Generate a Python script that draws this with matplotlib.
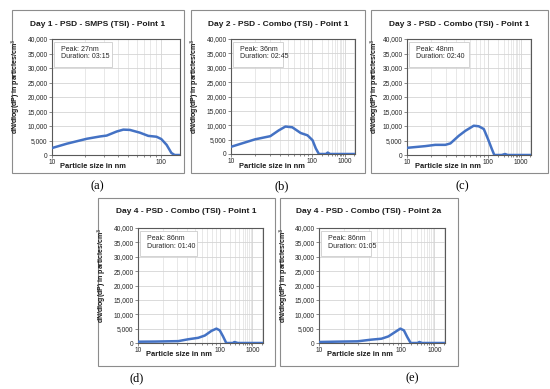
import matplotlib
matplotlib.use("Agg")
import matplotlib.pyplot as plt
import numpy as np
from matplotlib.patches import Rectangle
from matplotlib.ticker import FixedLocator, FuncFormatter

plt.rcParams['font.family'] = ['Liberation Sans', 'DejaVu Sans']

# ---- data (particle size in nm, dN/dlog(dP)) ----
a_size = [10, 13.7, 20.9, 27.7, 31.8, 39.3, 45.2, 52, 64.2, 76.6, 91.2, 101, 113, 125, 134, 149]
a_conc = [2400, 3900, 5600, 6400, 6700, 8100, 8750, 8650, 7700, 6600, 6300, 5500, 3500, 700, 0, 0]

b_size = [10, 19.8, 30.5, 38.7, 46.9, 56.9, 72.3, 87.7, 103, 130, 162, 268, 303, 356, 2100]
b_conc = [2500, 5100, 6200, 8200, 9550, 9300, 7300, 6500, 4800, 1950, 0, 0, 500, 0, 0]

c_size = [10, 16.8, 22.3, 29.7, 34.3, 43.4, 52.5, 66.5, 76.7, 88.5, 100, 130, 155, 265, 333, 400, 2100]
c_conc = [2470, 3060, 3500, 3500, 4000, 6600, 8350, 10100, 9900, 8950, 5400, 2100, 0, 0, 350, 0, 0]

d_size = [10, 16.3, 31.1, 41.2, 54.5, 65.7, 79, 91, 100, 126, 158, 251, 282, 355, 2100]
d_conc = [450, 500, 650, 1300, 1800, 2600, 4200, 5000, 4400, 2300, 0, 0, 350, 0, 0]

e_size = [10, 16.5, 29.3, 43, 57.4, 69.6, 84.1, 97, 119, 150, 191, 310, 350, 425, 2100]
e_conc = [350, 470, 580, 1160, 1500, 2300, 3840, 5000, 4400, 2100, 0, 0, 350, 0, 0]

titles = ["Day 1 - PSD - SMPS (TSI) - Point 1",
          "Day 2 - PSD - Combo (TSI) - Point 1",
          "Day 3 - PSD - Combo (TSI) - Point 1",
          "Day 4 - PSD - Combo (TSI) - Point 1",
          "Day 4 - PSD - Combo (TSI) - Point 2a"]
notes = ["Peak: 27nm\nDuration: 03:15",
         "Peak: 36nm\nDuration: 02:45",
         "Peak: 48nm\nDuration: 02:40",
         "Peak: 86nm\nDuration: 01:40",
         "Peak: 86nm\nDuration: 01:05"]
letters = ["(a)", "(b)", "(c)", "(d)", "(e)"]
y_ticks = [0, 5000, 10000, 15000, 20000, 25000, 30000, 35000, 40000]

W, H = 550, 389
BLUE = '#4472C4'
K = 0.4  # compression of the decade above 100 nm on the combo charts


def fwd(x):
    x = np.clip(np.asarray(x, dtype=float), 1e-3, None)
    lx = np.log10(x)
    return np.where(lx <= 2, lx, 2 + (lx - 2) * K)


def inv(y):
    y = np.asarray(y, dtype=float)
    with np.errstate(over='ignore'):
        return np.where(y <= 2, 10 ** y, 10 ** (2 + (y - 2) / K))


def px_rect(l, t, r, b):
    return [l / W, 1 - b / H, (r - l) / W, (b - t) / H]


fig = plt.figure(figsize=(W / 100, H / 100), dpi=100)

# (frame l, t, r, b), (plot l, t, r, b), box width, letter position
panels = [
    ((12, 10, 184, 173), (52, 39, 180, 155), 58, (97, 186)),
    ((191, 10, 365, 173), (231, 39, 355, 154), 50, (282, 186)),
    ((371, 10, 548, 173), (407, 39, 531, 155), 60, (462, 186)),
    ((98, 198, 275, 366), (138, 228, 263, 343), 57, (137, 378)),
    ((280, 198, 458, 366), (319, 228, 445, 343), 50, (412, 378)),
]
sizes = [a_size, b_size, c_size, d_size, e_size]
concs = [a_conc, b_conc, c_conc, d_conc, e_conc]

for i, (frame, plot, box_w, letter) in enumerate(panels):
    fl, ft, fr, fb = frame
    fig.add_artist(Rectangle((fl / W, 1 - fb / H), (fr - fl) / W, (fb - ft) / H,
                             transform=fig.transFigure, facecolor='white',
                             edgecolor='#8c8c8c', lw=0.8, zorder=-5))

    ax = fig.add_axes(px_rect(*plot))
    ax.plot(sizes[i], concs[i], color=BLUE, lw=1.8, solid_capstyle='round',
            solid_joinstyle='round', zorder=3)

    if i == 0:
        ax.set_xscale('log')
        ax.set_xlim(10, 150)
        major = [10, 100]
        minor = [20, 30, 40, 50, 60, 70, 80, 90]
    else:
        ax.set_xscale('function', functions=(fwd, inv))
        ax.set_xlim(10, 2100)
        major = [10, 100, 1000]
        minor = [20, 30, 40, 50, 60, 70, 80, 90,
                 200, 300, 400, 500, 600, 700, 800, 900, 2000]

    ax.xaxis.set_major_locator(FixedLocator(major))
    ax.xaxis.set_minor_locator(FixedLocator(minor))
    ax.xaxis.set_major_formatter(FuncFormatter(lambda v, p: f"{v:g}"))
    ax.xaxis.set_minor_formatter(FuncFormatter(lambda v, p: ""))
    ax.set_ylim(0, 40000)
    ax.set_yticks(y_ticks)
    ax.yaxis.set_major_formatter(FuncFormatter(lambda v, p: f"{int(v):,}"))

    ax.grid(which='major', color='#d4d4d4', lw=0.6)
    ax.grid(which='minor', axis='x', color='#dedede', lw=0.5)
    ax.set_axisbelow(True)
    for s in ax.spines.values():
        s.set_color('#595959')
        s.set_linewidth(0.8)
    ax.tick_params(which='both', labelsize=4.8, colors='#595959', labelcolor='#262626',
                   length=2, width=0.5, pad=1.2)
    ax.tick_params(which='minor', length=1.5)

    pl, pt, pr, pb = plot
    # note box
    fig.add_artist(Rectangle(((pl + 2) / W, 1 - (pt + 28) / H), box_w / W, 25 / H,
                             transform=fig.transFigure, facecolor='white',
                             edgecolor='#cccccc', lw=0.6, zorder=5))
    fig.text((pl + 9) / W, 1 - (pt + 7) / H, notes[i], fontsize=5.0, color='#262626',
             va='top', ha='left', linespacing=1.1, zorder=6)

    fig.text((fl + fr) / 2 / W, 1 - (ft + 14) / H, titles[i], fontsize=6.0,
             fontweight='bold', ha='center', va='center', color='#1a1a1a')
    fig.text((fl + 4.8) / W, 1 - (pt + 47) / H, "dN/dlog(dP) in particles/cm$^3$",
             rotation=90, fontsize=5.0, fontweight='bold', ha='center', va='center',
             color='#1a1a1a')
    fig.text((pl + 41) / W, 1 - (pb + 12) / H, "Particle size in nm", fontsize=5.4,
             fontweight='bold', ha='center', va='center', color='#1a1a1a')
    fig.text(letter[0] / W, 1 - letter[1] / H, letters[i], fontsize=9,
             family='Liberation Serif', ha='center', va='center', color='black')

fig.savefig("out.png", dpi=100)
